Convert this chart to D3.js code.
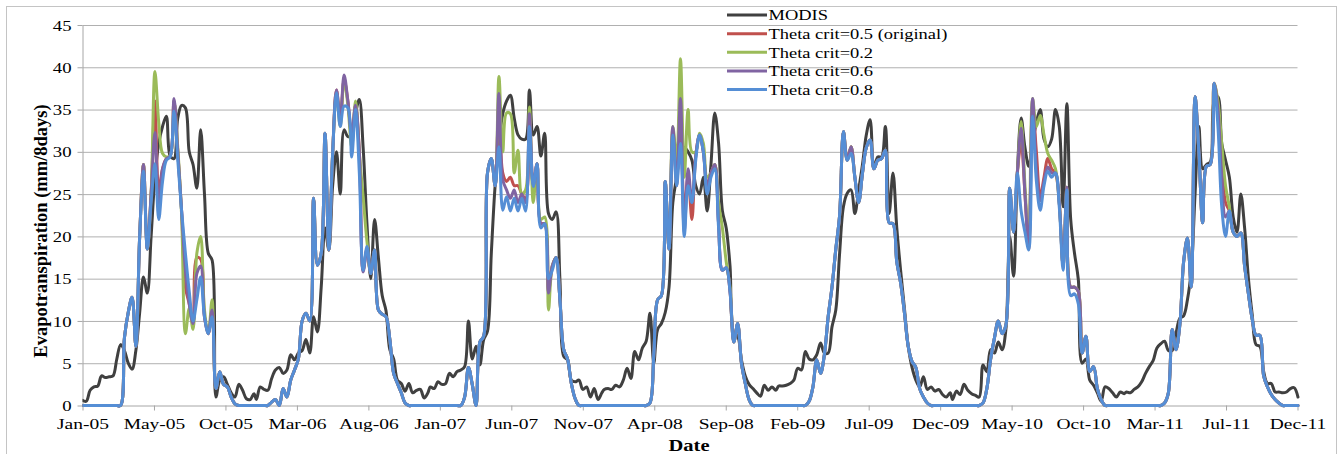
<!DOCTYPE html>
<html>
<head>
<meta charset="utf-8">
<script src="https://cdn.jsdelivr.net/npm/d3@7"></script>
<style>
  html, body { margin: 0; padding: 0; background: #ffffff; }
  svg { display: block; }
  text { font-family: "Liberation Serif", "Times New Roman", serif; fill: #000; }
</style>
</head>
<body>
<svg id="chart" width="1343" height="454"></svg>
<script>
// 8-day evapotranspiration composites (46 per year, day-of-year 1, 9, ..., 361)
const years = [2005, 2006, 2007, 2008, 2009, 2010, 2011];

const modis = [
  [0.6,0.5,1.8,2.2,2.3,3.5,3.3,3.4,3.5,5.5,7.2,6.5,5.0,4.3,6.5,11.0,15.2,13.3,20.0,27.0,31.0,33.0,34.2,29.5,29.2,34.0,35.5,35.2,30.0,28.5,25.7,32.6,25.0,18.0,17.2,1.0,3.0,3.4,2.5,1.5,1.0,2.5,1.8,0.8,0.7,1.4],
  [0.7,2.2,1.9,1.8,3.2,4.2,4.5,3.8,4.2,6.0,5.4,6.2,6.5,7.8,6.2,10.5,8.7,14.0,21.0,18.4,26.0,30.0,25.0,32.6,31.8,32.0,34.5,36.2,30.5,21.5,15.0,22.0,17.5,13.0,11.2,6.6,5.5,3.0,2.6,1.7,2.6,1.5,1.8,1.9,0.9,1.5],
  [2.2,2.0,2.8,2.5,2.6,3.8,3.4,4.0,4.2,4.6,10.0,5.5,7.0,4.8,7.8,8.8,18.0,26.0,31.0,34.5,36.0,36.7,34.0,32.0,31.5,31.5,37.3,32.0,33.0,29.5,32.2,22.7,22.0,22.9,14.9,5.8,5.4,3.0,2.8,3.0,1.9,2.2,1.0,2.0,0.7,1.5],
  [1.9,2.0,1.9,2.4,2.2,3.0,4.4,3.2,6.4,5.4,6.8,7.6,10.9,5.0,9.0,9.7,11.0,14.0,24.0,27.0,30.0,30.5,30.0,29.0,26.0,25.0,27.0,23.0,28.5,34.6,31.0,23.0,21.0,16.5,8.5,8.2,5.4,3.5,2.5,2.0,1.5,1.1,2.4,1.8,2.2,1.8],
  [2.3,2.3,2.4,2.6,3.0,4.4,4.2,6.4,5.5,5.4,6.0,7.4,6.2,6.2,9.3,11.3,18.0,23.5,25.1,25.5,22.7,25.5,28.5,32.0,33.8,28.0,29.4,29.4,33.0,22.7,27.5,21.0,16.0,11.5,7.0,4.5,3.0,2.2,3.4,1.9,2.2,1.7,1.9,1.3,1.0,1.5],
  [0.7,1.7,1.3,2.5,1.8,1.4,1.2,1.0,4.8,4.0,6.6,6.2,7.5,6.6,9.0,20.0,15.3,27.5,34.0,30.5,28.3,31.0,33.5,35.0,31.5,30.6,31.5,35.0,33.0,23.5,35.7,22.0,18.0,14.9,5.0,5.5,3.0,2.4,1.5,0.5,2.2,2.0,1.5,1.0,1.6,1.4],
  [1.6,1.5,1.9,2.2,2.8,3.8,4.6,5.3,6.8,7.3,7.6,6.5,6.5,8.5,10.3,10.6,12.5,16.0,25.0,33.0,28.0,28.5,28.8,36.0,36.5,31.0,29.0,27.0,22.3,20.5,25.0,21.0,15.0,10.7,7.2,7.0,4.0,2.6,2.6,1.6,1.6,1.5,1.6,2.0,2.1,1.0]
];

const theta05 = [
  [0,0,0,0,0,0,0,0,0,0,0,8,11,12.8,7,20,28.5,18.5,25,36,25.5,28,29.2,29.5,36,30,23,14,12,9.7,17.5,17.3,10.5,8.5,11.3,2,4,2.5,2.2,1,0.2,0,0,0,0,0],
  [0,0,0,0,0.4,0.7,0,2,1,3,4.2,5.5,10,10.9,10,24.5,16.6,18,32.2,18.4,29.8,37.3,34,38.5,36,32,35.5,30,16,18.5,15.6,18.4,11.3,10.8,10.5,7.8,3.8,2.6,1.5,0.3,0,0,0,0,0,0],
  [0,0,0,0,0,0,0,0,0,1,4.5,2.5,0,7.5,8.2,27.5,29.2,26,35.5,27.5,26.5,27,26,26,25,24.5,34,26,28.6,21.5,21.5,13.5,16.5,17.5,12.5,6.6,5.5,2.6,0.8,0,0,0,0,0,0,0],
  [0,0,0,0,0,0,0,0,0,0,0,0,0.3,6,12.5,13,26.5,18.5,32.5,27,33,23,27,22,29.5,32,30,26,27.5,28.5,21.5,16,16.3,13.5,7.5,9.7,5,2.6,0.7,0,0,0,0,0,0,0],
  [0,0,0,0,0,0,0,0,0.5,2.2,5.4,3.8,6,10.5,14,18.5,22.5,32.4,29,30.6,27,24,27.5,30.5,31.4,28,29,29.2,30.2,21.6,21.5,17,14.5,11,7,5.2,4.5,2,1,0.3,0,0,0,0,0,0],
  [0,0,0,0,0,0,0,0,0.3,2,5.5,8,10,8.5,9.5,25.7,20.5,27.5,31,25,18.5,35.5,30,24.7,27,29.2,28,27.5,24,16.5,25.8,14,14,13.5,6.2,8.2,4,4.6,2,0.7,0,0,0,0,0,0],
  [0,0,0,0,0,0,0,0,0,0,0.3,1.5,9,6.6,9.5,17,19.8,14,36.5,30,21.6,28.3,28.5,38.1,35.5,29,24,23,20.5,20,20.4,16.5,13.2,10.2,8.3,8.3,3.5,2.2,1.3,0.7,0.3,0,0,0,0,0]
];

const theta02 = [
  [0,0,0,0,0,0,0,0,0,0,0,8,11,12.8,7,20,28.5,18.5,25,39.5,33.5,29.8,29.4,29.5,36,30.5,22.5,8.5,11.5,9,18,20,11.3,8.5,12.5,2,4,2.5,2.2,1,0.2,0,0,0,0,0],
  [0,0,0,0,0.4,0.7,0,2,1,3,4.2,5.5,10,10.9,10,24.5,16.6,18,32.2,18.4,29.8,37,33,38.5,35.5,30.5,36,29.8,24.7,19.4,15.6,18.4,11.3,10.8,10.5,7.8,3.8,2.6,1.5,0.3,0,0,0,0,0,0],
  [0,0,0,0,0,0,0,0,0,1,4.5,2.5,0,7.5,8.2,27.5,29.2,26,38.9,30,34.6,34.5,27.5,30.2,25,25.5,35.3,24,28.6,22,22.3,11.3,16.5,17.5,12.5,6.6,5.5,2.6,0.8,0,0,0,0,0,0,0],
  [0,0,0,0,0,0,0,0,0,0,0,0,0.3,6,12.5,13,26.5,18.5,33,29,41,27,35,30,30,32.2,31,27,27.5,28.5,24,21,17,14,7.5,9.7,5,2.6,0.7,0,0,0,0,0,0,0],
  [0,0,0,0,0,0,0,0,0.5,2.2,5.4,3.8,6,10.5,14,18.5,22.5,32.4,29,30.6,27,24,27.5,30.5,31.4,28,29,29.2,30.2,21.6,21.5,17,14.5,11,7,5.2,4.5,2,1,0.3,0,0,0,0,0,0],
  [0,0,0,0,0,0,0,0,0.3,2,5.5,8,10,8.5,9.5,25.7,20.5,27.5,33.6,26,19,36.3,33,34.3,32,29.8,29,28,24,16.5,25.8,14,14,13.5,6.2,8.2,4,4.6,2,0.7,0,0,0,0,0,0],
  [0,0,0,0,0,0,0,0,0,0,0.3,1.5,9,6.6,9.5,17,19.8,14,36.5,30,21.6,28.3,28.5,38.1,36,31,26,23.5,20.5,20,20.4,16.5,13.2,10.2,8.3,8.3,3.5,2.2,1.3,0.7,0.3,0,0,0,0,0]
];

const theta06 = [
  [0,0,0,0,0,0,0,0,0,0,0,8,11,12.8,7,20,28.5,18.5,25,32.3,23.5,28,29.2,29.5,36.3,30,23,16,12,9.7,15.6,16.5,10.5,8.5,11.3,2,4,2.5,2.2,1,0.2,0,0,0,0,0],
  [0,0,0,0,0.4,0.7,0,2,1,3,4.2,5.5,10,10.9,10,24.5,16.6,18,32.2,18.4,29.8,37.3,34,39.1,36,32,35.5,30,15.8,18.5,15.6,18.4,11.3,10.8,10.5,7.8,3.8,2.6,1.5,0.3,0,0,0,0,0,0],
  [0,0,0,0,0,0,0,0,0,1,4.5,2.5,0,7.5,8.2,27.5,29.2,26,36.9,26.7,25.5,24.5,25.5,24,25,24,34.5,26,28.6,21.5,21.5,13.3,16.5,17.5,12.5,6.6,5.5,2.6,0.8,0,0,0,0,0,0,0],
  [0,0,0,0,0,0,0,0,0,0,0,0,0.3,6,12.5,13,26.5,18.5,33,26,36.3,20.5,28,24,29.5,32,30,26,27.5,28.5,21.5,16,16.3,13.5,7.5,9.7,5,2.6,0.7,0,0,0,0,0,0,0],
  [0,0,0,0,0,0,0,0,0.5,2.2,5.4,3.8,6,10.5,14,18.5,22.5,32.4,29,30.6,27,24,27.5,30.5,31.4,28,29,29.2,30.2,21.6,21.5,17,14.5,11,7,5.2,4.5,2,1,0.3,0,0,0,0,0,0],
  [0,0,0,0,0,0,0,0,0.3,2,5.5,8,10,8.5,9.5,25.7,20.5,27.5,32.8,25,18.8,36.3,28,24.2,26.5,28.2,27.5,27.5,24,16.5,25.8,14,14,13.5,6.2,8.2,4,4.6,2,0.7,0,0,0,0,0,0],
  [0,0,0,0,0,0,0,0,0,0,0.3,1.5,9,6.6,9.5,17,19.8,14,36.5,30,21.6,28.3,28.5,38.1,35,27,22.3,23,20.5,20,20.4,16.5,13.2,10.2,8.3,8.3,3.5,2.2,1.3,0.7,0.3,0,0,0,0,0]
];

const theta08 = [
  [0,0,0,0,0,0,0,0,0,0,0,8,11,12.8,7,20,27.7,18.5,24,28.6,22,26.5,29,29.4,34.8,29,23,18,13.5,10,12.5,15.2,10.5,8.5,10.5,2,4,2.5,2.2,1,0.2,0,0,0,0,0],
  [0,0,0,0,0.4,0.7,0,2,1,3,4.2,5.5,10,10.9,10,24.5,16.6,18,32.2,18.4,29.8,37,33,35.4,35.2,29.4,35,27.5,16,18.8,15.6,18.4,11.3,10.8,10.5,7.8,3.8,2.6,1.5,0.3,0,0,0,0,0,0],
  [0,0,0,0,0,0,0,0,0,1,4.5,2.5,0,7.5,8.2,27.5,29.2,26,30.6,23.1,24.7,23,24.5,23,24.5,23,33,25.9,28.6,21,21.5,15,16,17.5,12.5,6.6,5.5,2.6,0.8,0,0,0,0,0,0,0],
  [0,0,0,0,0,0,0,0,0,0,0,0,0.3,6,12.5,13,26.5,18.5,32,26,31,20,26,24,29,32,30,25,27,28,21,16,16.3,13.5,7.5,9.7,5,2.6,0.7,0,0,0,0,0,0,0],
  [0,0,0,0,0,0,0,0,0.5,2.2,5.4,3.8,6,10.5,14,18.5,22.5,32.4,29,29.8,27,24,27.5,30.5,31.4,28,29,29.2,30.2,21.6,21.5,17,14.5,11,7,5.2,4.5,2,1,0.3,0,0,0,0,0,0],
  [0,0,0,0,0,0,0,0,0.3,2,5.5,8,10,8.5,9.5,25.7,20.5,27.5,23,20.5,18.4,34.2,26.5,23.1,26,27.7,27,27.5,23.5,16,25.5,13,13.2,12,6.2,8.2,4,4.6,2,0.7,0,0,0,0,0,0],
  [0,0,0,0,0,0,0,0,0,0,0.3,1.5,9,6.6,9.5,17,19.8,14,36.5,30,21.6,28.3,28.5,38.1,33,23.5,20,23,20.5,20,20.4,16.5,13.2,10.2,8.3,8.3,3.5,2.2,1.3,0.7,0.3,0,0,0,0,0]
];

const seriesNames  = ["MODIS", "Theta crit=0.5 (original)", "Theta crit=0.2", "Theta crit=0.6", "Theta crit=0.8"];
const seriesColors = ["#404040", "#c0504d", "#9bbb59", "#8064a2", "#558ed5"];
const seriesValues = [modis, theta05, theta02, theta06, theta08];

const yTicks = [0, 5, 10, 15, 20, 25, 30, 35, 40, 45];
// Date axis ticks every 150 days from 1 Jan 2005
const xTickDates = ["2005-01-01","2005-05-31","2005-10-28","2006-03-27","2006-08-24","2007-01-21",
                    "2007-06-20","2007-11-17","2008-04-15","2008-09-12","2009-02-09","2009-07-09",
                    "2009-12-06","2010-05-05","2010-10-02","2011-03-01","2011-07-29","2011-12-26"];

const yTitle = "Evapotranspiration (mm/8days)";
const xTitle = "Date";

// ---- layout ----
const plot = { left: 82.5, right: 1297.5, top: 25, bottom: 405.5 };
const svg = d3.select("#chart");

// outer chart frame
svg.append("rect")
  .attr("x", 6.5).attr("y", 6.5).attr("width", 1330).attr("height", 470)
  .attr("fill", "#ffffff").attr("stroke", "#c4c4c4").attr("stroke-width", 1);

const parse = d3.utcParse("%Y-%m-%d");
const x = d3.scaleUtc()
  .domain([parse(xTickDates[0]), parse(xTickDates[xTickDates.length - 1])])
  .range([plot.left, plot.right]);
const y = d3.scaleLinear().domain([0, 45]).range([plot.bottom, plot.top]);

// horizontal gridlines
svg.append("g")
  .attr("transform", `translate(${plot.left},0)`)
  .call(d3.axisLeft(y).tickValues(yTicks.filter(v => v > 0))
        .tickSize(-(plot.right - plot.left)).tickFormat(""))
  .call(g => g.select(".domain").remove())
  .call(g => g.selectAll("line").attr("stroke", "#b0b0b0").attr("stroke-width", 1));

// y axis
const yStretch = 1.25;
svg.append("g")
  .attr("transform", `translate(${plot.left},0)`)
  .call(d3.axisLeft(y).tickValues(yTicks).tickSize(5).tickSizeOuter(0).tickFormat(d3.format("d")))
  .call(g => g.select(".domain").attr("stroke", "#a6a6a6"))
  .call(g => g.selectAll(".tick line").attr("stroke", "#a6a6a6"))
  .call(g => g.selectAll(".tick text")
    .attr("font-family", "Liberation Serif, Times New Roman, serif")
    .attr("font-size", 15).attr("fill", "#000")
    .attr("x", -11 / yStretch).attr("dy", "0.34em")
    .attr("transform", `scale(${yStretch},1)`));

// x axis
const xStretch = 1.3;
svg.append("g")
  .attr("transform", `translate(0,${plot.bottom})`)
  .call(d3.axisBottom(x).tickValues(xTickDates.map(parse)).tickSize(5).tickSizeOuter(0)
        .tickFormat(d3.utcFormat("%b-%y")))
  .call(g => g.select(".domain").attr("stroke", "#a6a6a6"))
  .call(g => g.selectAll(".tick line").attr("stroke", "#a6a6a6"))
  .call(g => g.selectAll(".tick text")
    .attr("font-family", "Liberation Serif, Times New Roman, serif")
    .attr("font-size", 15).attr("fill", "#000")
    .attr("y", 24).attr("dy", 0)
    .attr("transform", `scale(${xStretch},1)`));

// axis titles
svg.append("text")
  .attr("transform", "translate(46.5,231) rotate(-90)")
  .attr("text-anchor", "middle").attr("font-weight", "bold").attr("font-size", 18.5)
  .text(yTitle);

svg.append("text")
  .attr("transform", "translate(689,451) scale(1.28,1)")
  .attr("text-anchor", "middle").attr("font-weight", "bold").attr("font-size", 16)
  .text(xTitle);

// series lines
svg.append("clipPath").attr("id", "plotClip")
  .append("rect").attr("x", plot.left).attr("y", 0)
  .attr("width", plot.right - plot.left + 3).attr("height", plot.bottom + 2.5);

const line = d3.line()
  .x(d => x(d.date))
  .y(d => y(d.value))
  .curve(d3.curveCatmullRom.alpha(0.5));

const series = seriesValues.map((rows, si) => ({
  name: seriesNames[si],
  color: seriesColors[si],
  points: rows.flatMap((row, yi) => row.map((v, k) => ({
    date: new Date(Date.UTC(years[yi], 0, 1 + 8 * k)),
    value: v
  })))
}));

svg.append("g").attr("clip-path", "url(#plotClip)")
  .selectAll("path")
  .data(series)
  .join("path")
  .attr("fill", "none")
  .attr("stroke", d => d.color)
  .attr("stroke-width", 3)
  .attr("stroke-linejoin", "round")
  .attr("stroke-linecap", "round")
  .attr("d", d => line(d.points));

// legend
const legendY = d3.scalePoint().domain(seriesNames).range([15, 89.6]);
const legend = svg.append("g").selectAll("g")
  .data(series)
  .join("g")
  .attr("transform", d => `translate(0,${legendY(d.name)})`);
legend.append("line")
  .attr("x1", 727).attr("x2", 767).attr("y1", 0).attr("y2", 0)
  .attr("stroke", d => d.color).attr("stroke-width", 3);
legend.append("text")
  .attr("transform", "translate(768.5,5.3) scale(1.23,1)")
  .attr("font-size", 15)
  .text(d => d.name);
</script>
</body>
</html>
